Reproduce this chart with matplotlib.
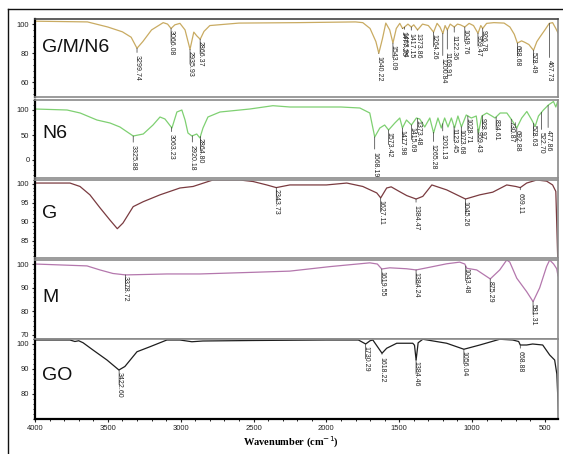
import numpy as np
import matplotlib
matplotlib.use('Agg')
import matplotlib.pyplot as plt
from matplotlib.lines import Line2D
from matplotlib.ticker import MultipleLocator

# ---------------- data ----------------
gmn6_w = [4000, 3640, 3500, 3400, 3340, 3300, 3260, 3200, 3120, 3090, 3066, 3040, 3005, 2970,
          2936, 2910, 2890, 2866, 2840, 2800, 2600, 2200, 1800, 1750, 1700, 1660, 1640, 1615,
          1592, 1565, 1543, 1520, 1496, 1477, 1463, 1440, 1417, 1400, 1374, 1340, 1300, 1264,
          1240, 1220, 1200, 1185, 1170, 1150, 1122, 1100, 1080, 1050, 1020, 990, 959, 940, 927,
          900, 850, 780, 740, 710, 689, 660, 640, 610, 578, 555, 535, 500, 470, 447, 425, 410]
gmn6_t = [102, 101.5, 98, 94.7, 91, 83.4, 88, 96, 101, 100, 97, 99.5, 100.5, 96,
          82.7, 94.5, 92, 89.6, 95, 99, 100.7, 101, 101.5, 101, 97, 88, 80, 90,
          100.7, 96, 87, 97, 100.5, 97, 98, 100, 98, 99.5, 96, 100, 99, 94.5,
          100.5, 98, 93.5, 99, 96, 100, 98, 100, 99.5, 98, 100.5, 99, 93.7, 99, 97,
          100.5, 101, 100.7, 98, 93, 87, 88.5, 87.6, 86, 82, 88, 91, 96, 100.5, 101, 97, 94]
gmn6_peaks = ['3299.74', '3066.08', '2935.93', '2866.37', '1640.22', '1543.09', '1477.25',
              '1463.94', '1417.15', '1373.86', '1264.26', '1200.84', '1169.91', '1122.36',
              '1049.76', '959.47', '926.78', '688.68', '578.49', '467.73']

n6_w = [4000, 3780, 3690, 3575, 3485, 3417, 3326, 3257, 3190, 3142, 3108, 3060, 3026, 2992,
        2970, 2950, 2923, 2890, 2868, 2847, 2813, 2730, 2525, 2367, 2250, 1900, 1770, 1702,
        1668, 1633, 1600, 1573, 1530, 1496, 1478, 1450, 1416, 1382, 1359, 1325, 1290, 1264,
        1234, 1211, 1188, 1165, 1142, 1120, 1097, 1073, 1040, 1005, 971, 956, 933, 899, 864,
        842, 807, 761, 727, 693, 659, 624, 590, 567, 544, 510, 476, 441, 425, 418, 410]
n6_t = [102, 100, 94, 80, 74, 66, 48, 52, 70, 86, 82, 64, 96, 100,
        80, 54, 48, 52, 44, 64, 86, 96, 102, 108.6, 106, 106, 104, 94,
        46, 64, 70, 60, 74, 84, 64, 80, 70, 84, 82, 66, 84, 54,
        84, 64, 84, 66, 84, 64, 88, 66, 90, 84, 88, 54, 88, 94, 88,
        84, 94, 94, 80, 64, 84, 97, 80, 67, 88, 100, 110, 117, 106, 112, 120]
n6_peaks = ['3325.88', '3063.23', '2920.18', '2864.80', '1668.19', '1573.42', '1477.98',
            '1415.69', '1373.48', '1265.28', '1201.13', '1123.45', '1073.68', '1028.71',
            '959.43', '928.97', '834.61', '730.87', '692.88', '578.63', '522.70', '477.86']

g_w = [4000, 3760, 3691, 3623, 3554, 3486, 3435, 3396, 3326, 3257, 3142, 3005, 2915, 2779,
       2594, 2503, 2409, 2344, 2251, 2000, 1860, 1750, 1654, 1627, 1586, 1555, 1500, 1448,
       1384, 1338, 1276, 1174, 1045, 947, 858, 762, 700, 669, 625, 556, 488, 447, 425, 412]
g_t = [100.2, 100.2, 99.3, 97.1, 93.7, 90.5, 88.2, 89.7, 94, 95.3, 97.1, 98.9, 99.3, 101,
       101, 100.6, 99.7, 99, 99.7, 99.7, 100.2, 99.3, 97.6, 96.3, 98.9, 99.2, 98, 96.9,
       96, 96.7, 99.7, 98.4, 96, 97.1, 97.8, 99.7, 99.3, 99, 100.2, 101, 100.7, 99.7, 98, 80.5]
g_peaks = ['2343.73', '1627.11', '1384.47', '1045.26', '669.11']

m_w = [4000, 3643, 3554, 3465, 3379, 3300, 3095, 2868, 2500, 2251, 1976, 1702, 1650, 1620,
       1565, 1450, 1384, 1310, 1174, 1085, 1050, 1036, 968, 875, 810, 762, 741, 693, 625,
       581, 536, 488, 467, 440, 419, 410]
m_t = [100, 99.2, 97.5, 96, 95.4, 95.5, 95.8, 95.8, 96.5, 97, 98.9, 100.5, 100, 97.9,
       98.4, 98, 97.5, 98.4, 100.1, 100.8, 100, 98.2, 97.5, 93.7, 97.5, 101.7, 100.8, 94, 88.3,
       84.1, 89.9, 99, 101.7, 100, 98, 95]
m_peaks = ['3378.72', '1619.55', '1384.24', '1043.48', '875.29', '581.31']

go_w = [4000, 3760, 3726, 3700, 3670, 3602, 3506, 3424, 3383, 3300, 3211, 3095, 3005, 2923,
        2848, 2500, 2000, 1780, 1730, 1700, 1681, 1650, 1618, 1586, 1517, 1407, 1395, 1384,
        1370, 1338, 1174, 1056, 947, 810, 721, 680, 669, 625, 584, 515, 467, 433, 418, 405]
go_t = [101.6, 101.6, 101, 101.3, 100.5, 97.6, 93.6, 89.6, 91, 96.9, 98.9, 101.6, 101.6, 100.9,
        101.2, 101.4, 101.6, 101.6, 100, 101.3, 101.6, 99, 96.3, 98.3, 100.3, 100.3, 99.5, 93.6,
        100.5, 101.9, 100.3, 97.9, 99.6, 101.9, 101.6, 101, 99.6, 99.6, 100, 99.6, 95.6, 93.6, 88, 70]
go_peaks = ['3422.60', '1730.29', '1618.22', '1384.46', '1056.04', '668.88']

names = ['G/M/N6', 'N6', 'G', 'M', 'GO']
xticks = [4000, 3500, 3000, 2500, 2000, 1500, 1000, 500]
yticks = [[60, 80, 100], [0, 50, 100], [85, 90, 95, 100], [70, 80, 90, 100], [80, 90, 100]]

# ---------------- layout / style ----------------
W, H = 563, 454
fig = plt.figure(figsize=(W / 100, H / 100), dpi=100)
plt.rcParams['font.family'] = ['Liberation Sans', 'DejaVu Sans']

panels_px = [(19, 97), (100, 178), (180, 258), (260, 339), (339, 419)]
ylims = [(50, 103.5), (-36, 120), (80.5, 101), (68.3, 101.7), (70, 102)]
colors = ['#c9ab62', '#7fd072', '#7a3b40', '#b477ad', '#1e1e1e']
name_y = [47, 133, 213, 297, 375]
series = [(gmn6_w, gmn6_t, gmn6_peaks), (n6_w, n6_t, n6_peaks), (g_w, g_t, g_peaks),
          (m_w, m_t, m_peaks), (go_w, go_t, go_peaks)]
# extra drop (px) of some crowded labels below the curve
drops = [{'3299.74': 7, '2935.93': 2, '1200.84': 25, '1169.91': 22, '467.73': 37, '1640.22': 3,
          '1122.36': 8, '1477.25': 3, '1463.94': 5, '1417.15': 6, '1373.86': 3},
         {'3325.88': 9, '3063.23': 7, '2920.18': 9, '1668.19': 15, '1477.98': 2,
          '1201.13': 10, '1265.28': 12, '522.70': 20, '477.86': 25},
         {'2343.73': 1, '1384.47': 6, '669.11': 5},
         {'3378.72': 1},
         {'668.88': 6, '1618.22': 4}]

left_px, right_px = 35, 558
for i, ((tp, bp), (w, t, peaks)) in enumerate(zip(panels_px, series)):
    ax = fig.add_axes([left_px / W, 1 - bp / H, (right_px - left_px) / W, (bp - tp) / H])
    ax.plot(w, t, color=colors[i], lw=0.9)
    ax.set_xlim(4000, 410)
    ax.set_ylim(*ylims[i])
    ax.set_yticks(yticks[i])
    ax.tick_params(axis='y', labelsize=5.5, length=2.5, width=0.8, pad=1.5, colors='#222')
    ax.yaxis.set_minor_locator(MultipleLocator((yticks[i][1] - yticks[i][0]) / 5))
    ax.tick_params(axis='y', which='minor', length=1.5, width=0.6)
    for s in ['top', 'right', 'bottom']:
        ax.spines[s].set_color('#8a8a8a')
        ax.spines[s].set_linewidth(1.2)
    ax.spines['left'].set_color('black')
    ax.spines['left'].set_linewidth(1.6)
    if i == 0:
        ax.spines['top'].set_color('#444')
    if i < 4:
        ax.set_xticks([])
    else:
        ax.spines['bottom'].set_color('black')
        ax.spines['bottom'].set_linewidth(1.6)
        ax.set_xticks(xticks)
        ax.xaxis.set_minor_locator(MultipleLocator(100))
        ax.tick_params(axis='x', labelsize=5.5, length=2.5, width=0.8, pad=1.5, colors='#222')
        ax.tick_params(axis='x', which='minor', length=1.5, width=0.6)
    ws = np.array(w, dtype=float)[::-1]
    ts = np.array(t, dtype=float)[::-1]
    for lab in peaks:
        p = float(lab)
        yc = np.interp(p, ws, ts)
        d = drops[i].get(lab, 2) * 0.72
        ax.annotate(lab, xy=(p, yc), xytext=(0, -d), textcoords='offset points',
                    rotation=270, ha='center', va='top', fontsize=5, color='#222',
                    arrowprops=dict(arrowstyle='-', lw=0.5, color='#333',
                                    shrinkA=0, shrinkB=0))
    fig.text(42 / W, 1 - name_y[i] / H, names[i], fontsize=14, va='center', ha='left',
             color='#111')

fig.text(291 / W, 1 - 442 / H, 'Wavenumber (cm$^{-1}$)', fontsize=7.5, fontweight='bold',
         family='Liberation Serif', ha='center', va='center')

# outer frame
fig.add_artist(Line2D([8 / W, 8 / W], [0, 1 - 9 / H], color='#111', lw=1.0))
fig.add_artist(Line2D([8 / W, 1], [1 - 9 / H, 1 - 9 / H], color='#111', lw=1.0))

fig.savefig('out.png', dpi=100)
